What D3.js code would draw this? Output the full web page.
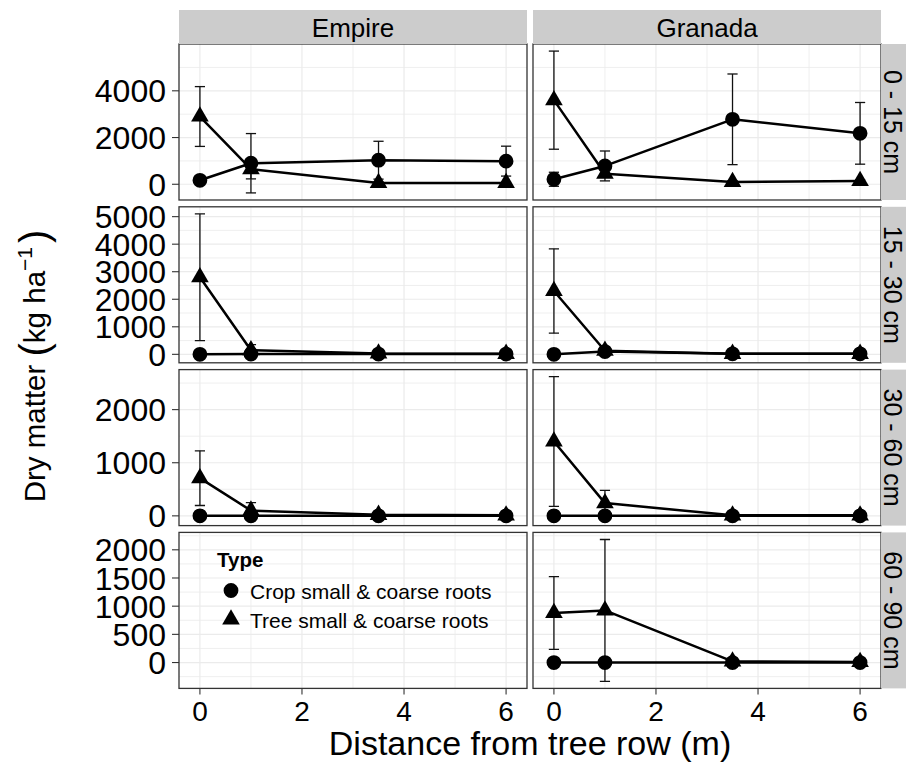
<!DOCTYPE html>
<html><head><meta charset="utf-8">
<script src="https://cdn.jsdelivr.net/npm/d3@7"></script>
<style>
body{margin:0;background:#fff}
svg{display:block}
text{font-family:"Liberation Sans", Arial, sans-serif; fill:#000}
</style>
</head><body>
<svg id="chart" width="906" height="763"></svg>
<script>
// ---------------- data ----------------
const distances = [0, 1, 3.5, 6];
const sites = ["Empire", "Granada"];
const depths = ["0 - 15 cm", "15 - 30 cm", "30 - 60 cm", "60 - 90 cm"];
const types = ["Crop small & coarse roots", "Tree small & coarse roots"];
const xTicks = [0, 2, 4, 6];
const yTicks = [
  [0, 2000, 4000],
  [0, 1000, 2000, 3000, 4000, 5000],
  [0, 1000, 2000],
  [0, 500, 1000, 1500, 2000]
];
// mean dry matter (kg/ha) by depth row, at each distance; null = no data
const empireCropMean  = [[170, 900, 1030, 990], [0, 10, 10, 10], [0, 0, 0, 0], null];
const empireCropSE    = [[150, 1270, 810, 640], [20, 20, 10, 10], [10, 10, 10, 10], null];
const empireTreeMean  = [[2900, 650, 55, 55], [2800, 150, 30, 20], [710, 100, 20, 10], null];
const empireTreeSE    = [[1280, 420, 40, 30], [2300, 200, 20, 10], [515, 150, 10, 10], null];
const granadaCropMean = [[214, 784, 2780, 2180], [0, 100, 20, 20], [0, 0, 0, 0], [0, 0, 0, 0]];
const granadaCropSE   = [[300, 640, 1940, 1320], [20, 40, 10, 10], [10, 10, 10, 10], [10, 10, 5, 5]];
const granadaTreeMean = [[3600, 450, 100, 140], [2300, 130, 20, 20], [1400, 240, 10, 10], [880, 925, 20, 10]];
const granadaTreeSE   = [[2100, 150, 50, 50], [1530, 60, 10, 10], [1220, 240, 10, 10], [645, 1258, 20, 10]];

const seriesTable = {
  "Empire":  {mean: [empireCropMean, empireTreeMean],  se: [empireCropSE, empireTreeSE]},
  "Granada": {mean: [granadaCropMean, granadaTreeMean], se: [granadaCropSE, granadaTreeSE]}
};

// ---------------- layout ----------------
const svg = d3.select("#chart");
svg.append("rect").attr("width", 906).attr("height", 763).attr("fill", "#fff");

const colX0 = 179, colW = 348, colGap = 6;
const rowY0 = 44, rowH = 156, rowGap = 6.8;
const stripTop = 10, stripRightW = 25;
const capHalf = 0.1;
const border = "#333333", grid = "#ebebeb";

const xDomainRaw = [d3.min(distances) - capHalf, d3.max(distances) + capHalf];
const xr = xDomainRaw[1] - xDomainRaw[0];
const xDomain = [xDomainRaw[0] - 0.05 * xr, xDomainRaw[1] + 0.05 * xr];

function rowDomain(r) {
  const vals = [];
  sites.forEach(s => {
    types.forEach((t, ti) => {
      const m = seriesTable[s].mean[ti][r], e = seriesTable[s].se[ti][r];
      if (!m) return;
      m.forEach((v, i) => { vals.push(v - e[i], v + e[i]); });
    });
  });
  const lo = d3.min(vals), hi = d3.max(vals), R = hi - lo;
  return [lo - 0.05 * R, hi + 0.05 * R];
}

const circleSym = d3.symbol(d3.symbolCircle, Math.PI * 7.4 * 7.4);
const triSym = d3.symbol(d3.symbolTriangle, 135);
const symbols = [circleSym, triSym];

const defs = svg.append("defs");

depths.forEach((depth, r) => {
  const y0 = rowY0 + r * (rowH + rowGap);
  const y = d3.scaleLinear().domain(rowDomain(r)).range([y0 + rowH, y0]);
  const ticks = yTicks[r];
  const step = ticks[1] - ticks[0];
  const minor = [];
  for (let v = ticks[0] - step / 2; v <= ticks[ticks.length - 1] + step / 2 + 1e-9; v += step) minor.push(v);
  const minorIn = minor.filter(v => v >= y.domain()[0] && v <= y.domain()[1]);

  sites.forEach((site, c) => {
    const x0 = colX0 + c * (colW + colGap);
    const x = d3.scaleLinear().domain(xDomain).range([x0, x0 + colW]);
    const clipId = `clip-${r}-${c}`;
    defs.append("clipPath").attr("id", clipId)
      .append("rect").attr("x", x0).attr("y", y0).attr("width", colW).attr("height", rowH);

    const g = svg.append("g");
    g.append("rect").attr("x", x0).attr("y", y0).attr("width", colW).attr("height", rowH).attr("fill", "#fff");

    const gg = g.append("g").attr("clip-path", `url(#${clipId})`);
    // minor grid
    const xMinor = [1, 3, 5];
    gg.selectAll(".vm").data(xMinor).join("line")
      .attr("x1", d => x(d)).attr("x2", d => x(d)).attr("y1", y0).attr("y2", y0 + rowH)
      .attr("stroke", grid).attr("stroke-width", 0.8);
    gg.selectAll(".hm").data(minorIn).join("line")
      .attr("x1", x0).attr("x2", x0 + colW).attr("y1", d => y(d)).attr("y2", d => y(d))
      .attr("stroke", grid).attr("stroke-width", 0.8);
    // major grid
    gg.selectAll(".vM").data(xTicks).join("line")
      .attr("x1", d => x(d)).attr("x2", d => x(d)).attr("y1", y0).attr("y2", y0 + rowH)
      .attr("stroke", grid).attr("stroke-width", 1.2);
    gg.selectAll(".hM").data(ticks).join("line")
      .attr("x1", x0).attr("x2", x0 + colW).attr("y1", d => y(d)).attr("y2", d => y(d))
      .attr("stroke", grid).attr("stroke-width", 1.2);

    // data
    types.forEach((t, ti) => {
      const m = seriesTable[site].mean[ti][r];
      const e = seriesTable[site].se[ti][r];
      if (!m) return;
      const pts = distances.map((d, i) => ({x: d, v: m[i], se: e[i]}));
      // error bars
      const eb = gg.append("g").attr("stroke", "#111").attr("stroke-width", 1.3).attr("fill", "none");
      pts.forEach(p => {
        eb.append("line").attr("x1", x(p.x)).attr("x2", x(p.x)).attr("y1", y(p.v - p.se)).attr("y2", y(p.v + p.se));
        eb.append("line").attr("x1", x(p.x - capHalf)).attr("x2", x(p.x + capHalf)).attr("y1", y(p.v + p.se)).attr("y2", y(p.v + p.se));
        eb.append("line").attr("x1", x(p.x - capHalf)).attr("x2", x(p.x + capHalf)).attr("y1", y(p.v - p.se)).attr("y2", y(p.v - p.se));
      });
      gg.append("path").datum(pts)
        .attr("d", d3.line().x(p => x(p.x)).y(p => y(p.v)))
        .attr("fill", "none").attr("stroke", "#000").attr("stroke-width", 2.5).attr("stroke-linejoin", "round");
    });
    types.forEach((t, ti) => {
      const m = seriesTable[site].mean[ti][r];
      if (!m) return;
      gg.selectAll(null).data(distances.map((d, i) => ({x: d, v: m[i]}))).join("path")
        .attr("transform", p => `translate(${x(p.x)},${y(p.v)})`)
        .attr("d", symbols[ti]()).attr("fill", "#000");
    });

    g.append("rect").attr("x", x0).attr("y", y0).attr("width", colW).attr("height", rowH)
      .attr("fill", "none").attr("stroke", border).attr("stroke-width", 1.3);

    // y axis on left column
    if (c === 0) {
      const ya = svg.append("g");
      ticks.forEach(v => {
        ya.append("line").attr("x1", x0 - 7).attr("x2", x0).attr("y1", y(v)).attr("y2", y(v))
          .attr("stroke", border).attr("stroke-width", 1.1);
        ya.append("text").attr("x", x0 - 13).attr("y", y(v)).attr("dy", "0.36em")
          .attr("text-anchor", "end").attr("font-size", 32).text(d3.format("d")(v));
      });
    }
    // x axis on bottom row
    if (r === depths.length - 1) {
      const xa = svg.append("g");
      xTicks.forEach(v => {
        xa.append("line").attr("x1", x(v)).attr("x2", x(v)).attr("y1", y0 + rowH).attr("y2", y0 + rowH + 6)
          .attr("stroke", border).attr("stroke-width", 1.1);
        xa.append("text").attr("x", x(v)).attr("y", y0 + rowH + 33)
          .attr("text-anchor", "middle").attr("font-size", 28).text(v);
      });
    }
    // top strips
    if (r === 0) {
      svg.append("rect").attr("x", x0).attr("y", stripTop).attr("width", colW).attr("height", y0 - stripTop)
        .attr("fill", "#cccccc");
      svg.append("text").attr("x", x0 + colW / 2).attr("y", 37).attr("text-anchor", "middle")
        .attr("font-size", 26).text(site);
    }
    // right strips
    if (c === sites.length - 1) {
      const sx = x0 + colW;
      svg.append("rect").attr("x", sx).attr("y", y0).attr("width", stripRightW).attr("height", rowH)
        .attr("fill", "#cccccc");
      svg.append("text").attr("transform", `translate(${sx + 2.5},${y0 + rowH / 2}) rotate(90)`)
        .attr("text-anchor", "middle").attr("font-size", 25).text(depth);
    }
  });
});

// legend inside Empire / 60 - 90 cm panel
const lg = svg.append("g");
lg.append("text").attr("x", 217).attr("y", 567).attr("font-size", 20.5).attr("font-weight", "bold").text("Type");
types.forEach((t, i) => {
  const cy = 590.5 + i * 29;
  lg.append("path").attr("transform", `translate(231,${cy})`).attr("d", symbols[i]()).attr("fill", "#000");
  lg.append("text").attr("x", 250).attr("y", cy + 1).attr("dy", "0.36em").attr("font-size", 21).text(t);
});

// axis titles
svg.append("text").attr("x", 530).attr("y", 755).attr("text-anchor", "middle")
  .attr("font-size", 34).text("Distance from tree row (m)");

const yt = svg.append("text").attr("transform", "translate(45,366) rotate(-90)")
  .attr("text-anchor", "middle").attr("font-size", 29.5);
yt.append("tspan").text("Dry matter ");
yt.append("tspan").attr("font-size", 40).attr("dy", 3).text("(");
yt.append("tspan").attr("dy", -3).text("kg ha");
yt.append("tspan").attr("font-size", 21).attr("dy", -13).text("\u22121");
yt.append("tspan").attr("font-size", 40).attr("dy", 16).attr("dx", 4).text(")");
</script>
</body></html>
